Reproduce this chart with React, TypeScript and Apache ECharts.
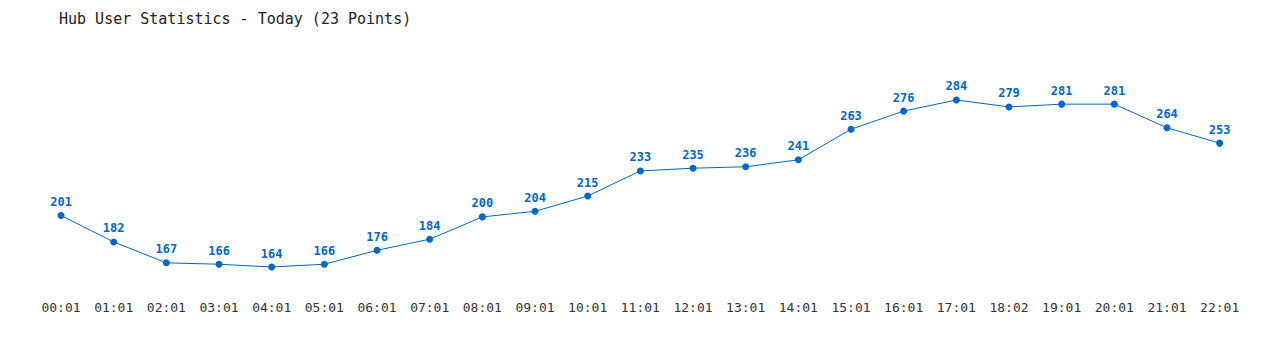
import React, { useEffect, useRef } from "react";
import * as echarts from "echarts";

const categories = ["00:01","01:01","02:01","03:01","04:01","05:01","06:01","07:01","08:01","09:01","10:01","11:01","12:01","13:01","14:01","15:01","16:01","17:01","18:02","19:01","20:01","21:01","22:01"];
const users = [201,182,167,166,164,166,176,184,200,204,215,233,235,236,241,263,276,284,279,281,281,264,253];
const titleText = "Hub User Statistics - Today (23 Points)";

export default function App() {
  const ref = useRef<HTMLDivElement>(null);
  useEffect(() => {
    if (!ref.current) return;
    const chart = echarts.init(ref.current, undefined, { renderer: "svg" });
    const mono = "'DejaVu Sans Mono', 'Liberation Mono', monospace";
    chart.setOption({
      animation: false,
      backgroundColor: "#ffffff",
      title: {
        text: titleText,
        left: 46,
        top: -2,
        textStyle: { fontFamily: mono, fontSize: 15, fontWeight: "normal", color: "#222" },
      },
      grid: { left: 26.7, right: 26, top: 69.7, bottom: 55.5, containLabel: false },
      xAxis: {
        type: "category",
        data: categories,
        boundaryGap: true,
        axisLine: { show: false },
        axisTick: { show: false },
        axisLabel: { fontFamily: mono, fontSize: 13, color: "#333", margin: 14, interval: 0 },
      },
      yAxis: {
        type: "value",
        min: 150,
        max: 300,
        show: false,
        splitLine: { show: false },
      },
      series: [
        {
          type: "line",
          data: users,
          symbol: "circle",
          symbolSize: 7,
          lineStyle: { color: "#0066cc", width: 1 },
          itemStyle: { color: "#0066cc" },
          label: {
            show: true,
            position: "top",
            distance: 4,
            fontFamily: mono,
            fontSize: 12,
            fontWeight: "bold",
            color: "#0066cc",
          },
        },
      ],
    });
    return () => chart.dispose();
  }, []);
  return <div ref={ref} style={{ width: 1264, height: 334 }} />;
}
